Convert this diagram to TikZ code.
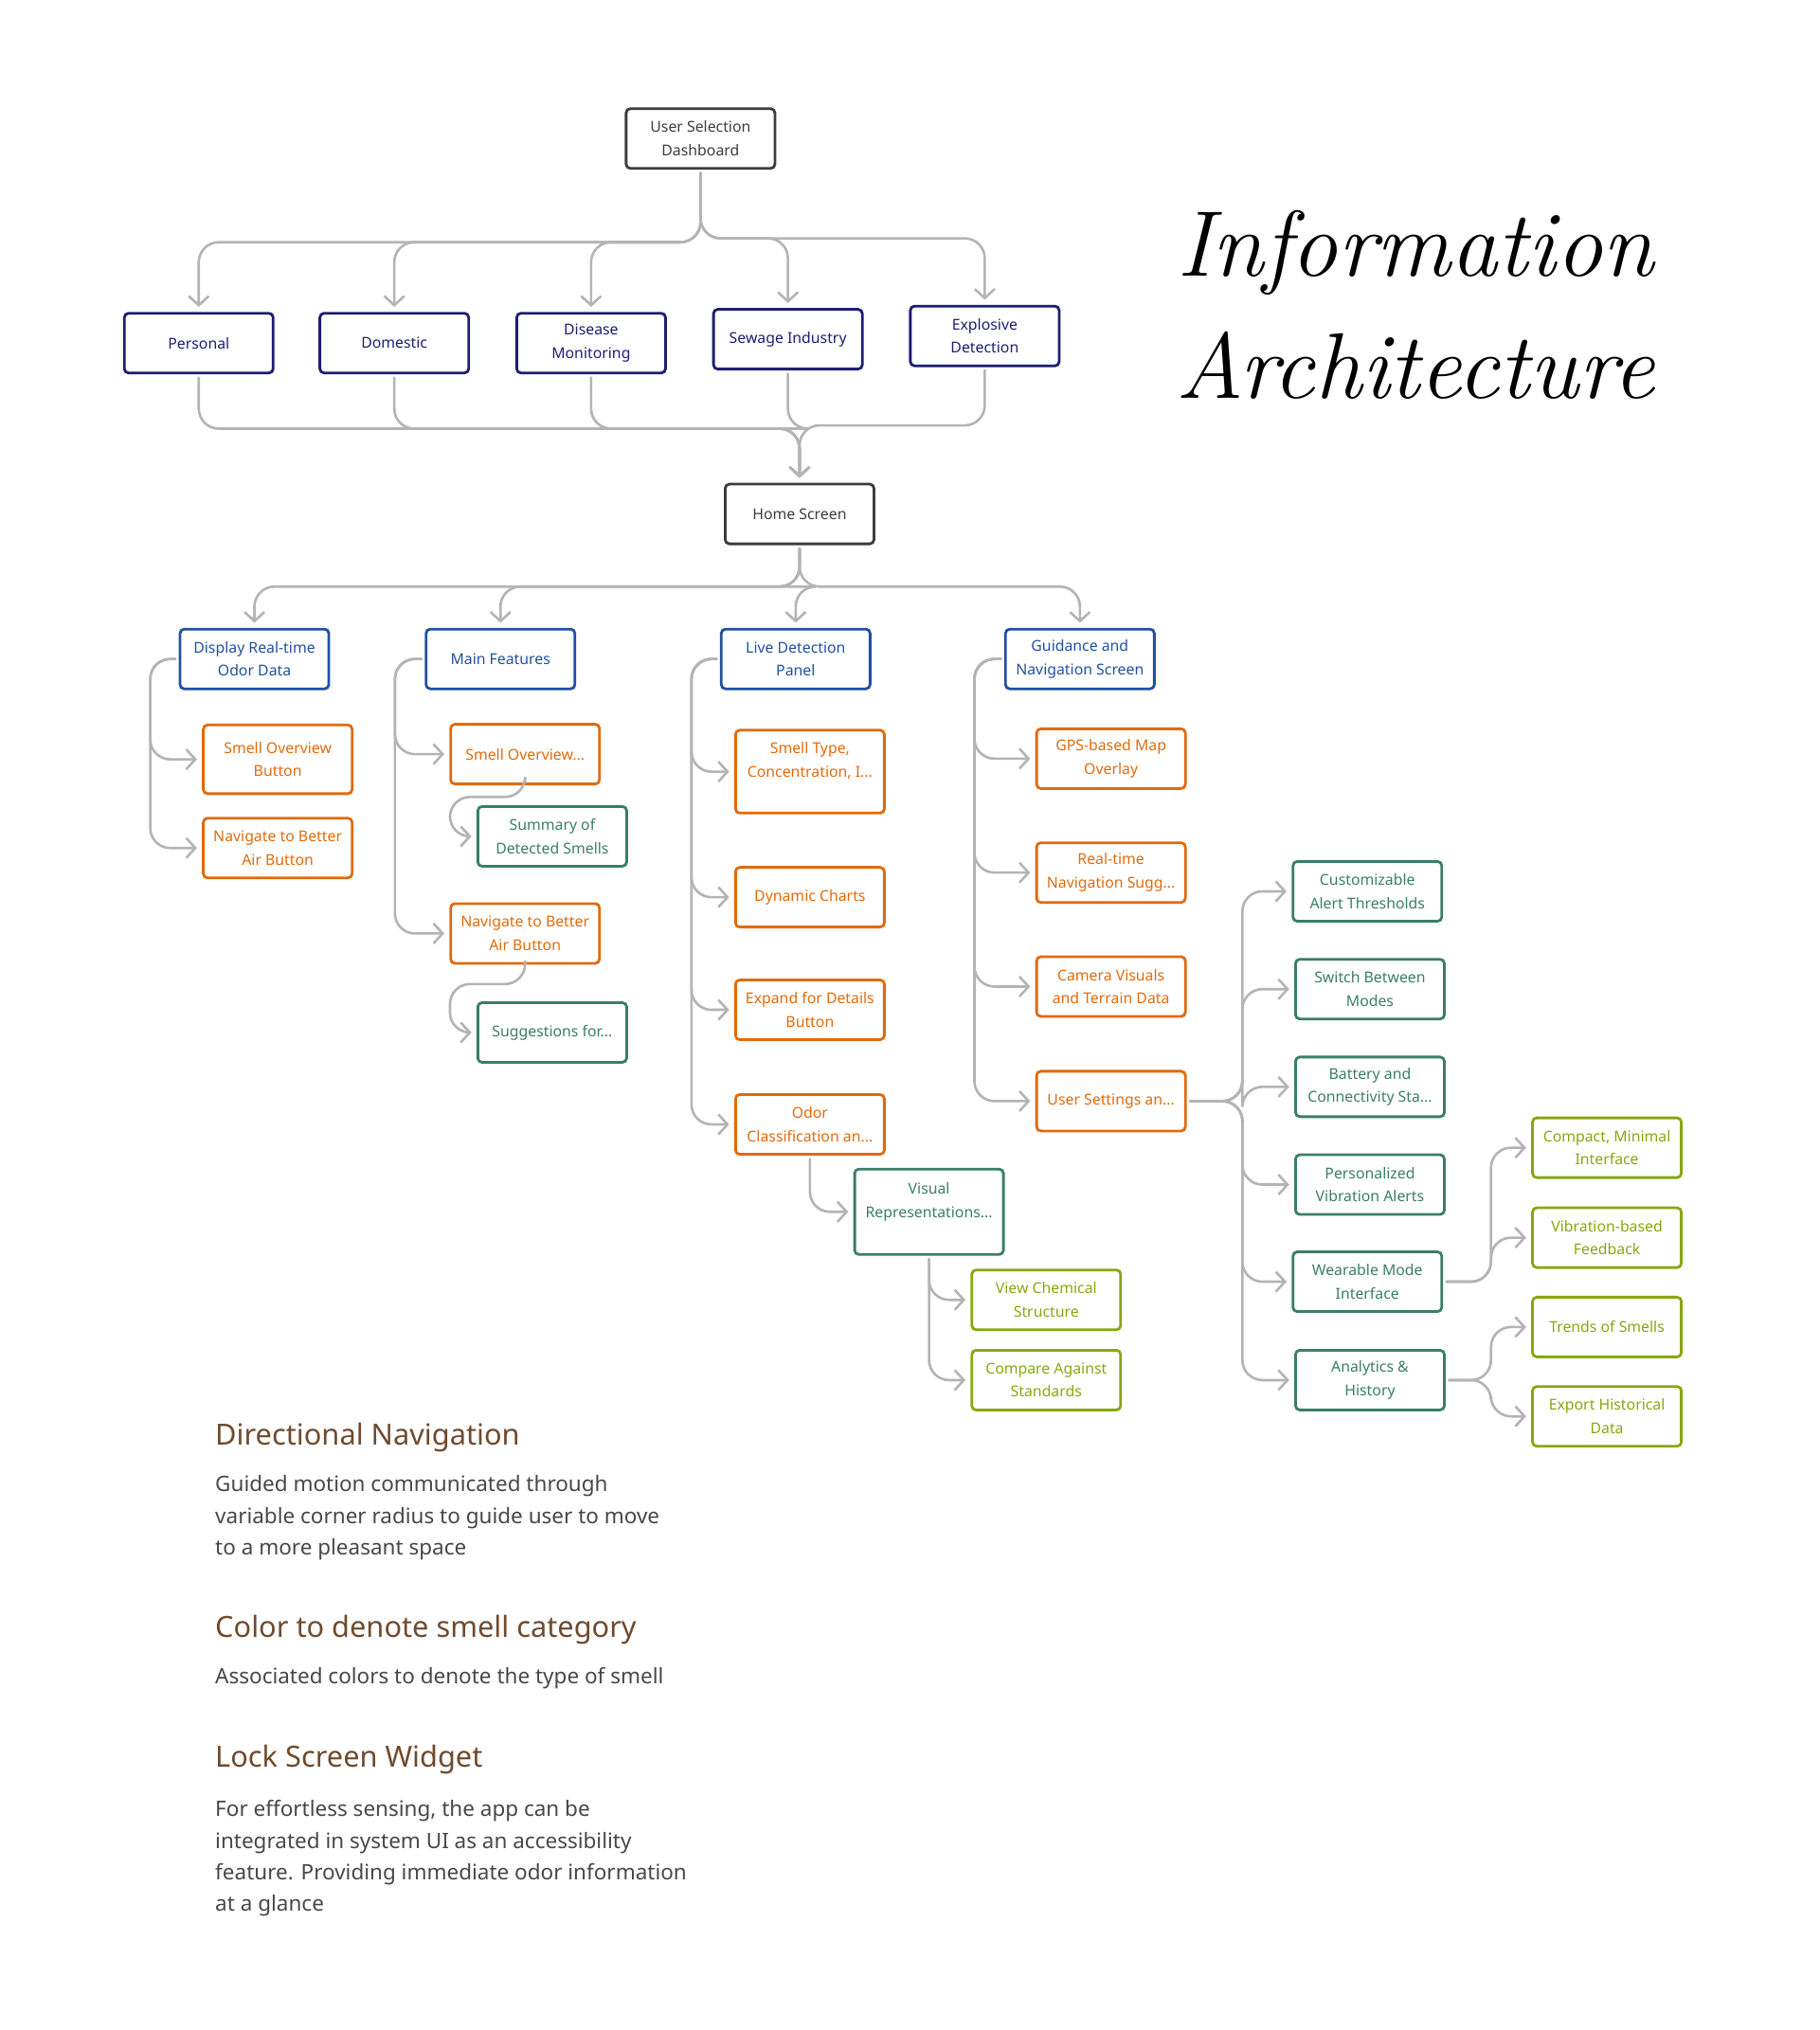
\documentclass[tikz,border=0pt]{standalone}
\usepackage{fontspec}
\setmainfont{Noto Sans}
\newfontfamily\handfont{Latin Modern Roman}
\usepackage{xcolor}
\usepackage{tikz}
\usetikzlibrary{arrows.meta}

\definecolor{rootc}{HTML}{3C3C3C}
\definecolor{navyc}{HTML}{1E1E72}
\definecolor{bluec}{HTML}{2150A0}
\definecolor{orangec}{HTML}{E26A0A}
\definecolor{tealc}{HTML}{3A7D68}
\definecolor{olivec}{HTML}{86A80E}
\definecolor{linkc}{HTML}{B4B4B4}
\definecolor{headc}{HTML}{6F4A2F}
\definecolor{bodyc}{HTML}{474747}

\tikzset{
  box/.style={draw, rounded corners=2.5pt, line width=1.6pt, minimum width=3.14cm,
    minimum height=1.26cm, align=center, inner sep=2pt, font=\fontsize{9}{14}\selectfont},
  rootbox/.style={box, draw=rootc, text=rootc},
  catbox/.style={box, draw=navyc, text=navyc},
  sectbox/.style={box, draw=bluec, text=bluec},
  featbox/.style={box, draw=orangec, text=orangec},
  subbox/.style={box, draw=tealc, text=tealc},
  leafbox/.style={box, draw=olivec, text=olivec},
  link/.style={draw=linkc, line width=1.5pt, rounded corners=12pt, line cap=round,
    shorten >=3pt, shorten <=2pt, -{Straight Barb[length=5.5pt,width=12pt]}},
  heading/.style={anchor=base west, inner sep=0pt, text=headc, font=\fontsize{17.5}{21}\selectfont},
  bodytext/.style={anchor=base west, inner sep=0pt, align=left, text=bodyc,
    font=\fontsize{12.8}{19}\selectfont},
}

\begin{document}
\begin{tikzpicture}[x=0.02733cm, y=-0.02733cm]
\useasboundingbox (0,0) rectangle (1405,1568);
% Title
\node[anchor=base, font=\handfont\itshape\fontsize{56}{70}\selectfont] (title1) at (1093,213) {Information};
\node[anchor=base, font=\handfont\itshape\fontsize{56}{70}\selectfont] (title2) at (1093,308) {Architecture};
% Dashboard and categories
\node[rootbox] (usd) at (541,107) {User Selection\\Dashboard};
\node[catbox] (personal) at (153.5,265) {Personal};
\node[catbox] (domestic) at (304.5,265) {Domestic};
\node[catbox] (disease) at (456.5,265) {Disease\\Monitoring};
\node[catbox] (sewage) at (608.5,262) {Sewage Industry};
\node[catbox] (explosive) at (760.5,259.5) {Explosive\\Detection};
\node[rootbox] (home) at (617.5,397) {Home Screen};
% Sections
\node[sectbox] (odordata) at (196.5,509) {Display Real-time\\Odor Data};
\node[sectbox] (mainfeat) at (386.5,509) {Main Features};
\node[sectbox] (livepanel) at (614.5,509) {Live Detection\\Panel};
\node[sectbox] (guidance) at (834,509) {Guidance and\\Navigation Screen};
% Display real-time odor data
\node[featbox, minimum height=1.45cm] (smellbtn) at (214.5,586.5) {Smell Overview\\Button};
\node[featbox] (navbtn) at (214.5,655) {Navigate to Better\\Air Button};
% Main features
\node[featbox] (smellov) at (405.5,582.5) {Smell Overview...};
\node[subbox] (summary) at (426.5,646) {Summary of\\Detected Smells};
\node[featbox] (navbtnb) at (405.5,721) {Navigate to Better\\Air Button};
\node[subbox] (suggest) at (426.5,797.5) {Suggestions for...};
% Live detection panel
\node[featbox, minimum height=1.75cm] (smelltype) at (625.5,596) {Smell Type,\\Concentration, I...\\\mbox{}};
\node[featbox] (charts) at (625.5,693) {Dynamic Charts};
\node[featbox] (expand) at (625.5,780) {Expand for Details\\Button};
\node[featbox] (odorcls) at (625.5,868.5) {Odor\\Classification an...};
\node[subbox, minimum height=1.8cm] (visrep) at (717.5,936) {Visual\\Representations...\\\mbox{}};
\node[leafbox] (chem) at (808,1004) {View Chemical\\Structure};
\node[leafbox] (compare) at (808,1066) {Compare Against\\Standards};
% Guidance and navigation
\node[featbox] (gps) at (858,586) {GPS-based Map\\Overlay};
\node[featbox] (realnav) at (858,674) {Real-time\\Navigation Sugg...};
\node[featbox] (camera) at (858,762) {Camera Visuals\\and Terrain Data};
\node[featbox] (usersets) at (858,850.5) {User Settings an...};
% User settings
\node[subbox] (alerts) at (1056,688.5) {Customizable\\Alert Thresholds};
\node[subbox] (modes) at (1058,764) {Switch Between\\Modes};
\node[subbox] (battery) at (1058,839.5) {Battery and\\Connectivity Sta...};
\node[subbox] (vibalerts) at (1058,915) {Personalized\\Vibration Alerts};
\node[subbox] (wearable) at (1056,990) {Wearable Mode\\Interface};
\node[subbox] (analytics) at (1058,1066) {Analytics \&\\History};
\node[leafbox] (compact) at (1241,886.5) {Compact, Minimal\\Interface};
\node[leafbox] (vibfeed) at (1241,956) {Vibration-based\\Feedback};
\node[leafbox] (trends) at (1241,1025) {Trends of Smells};
\node[leafbox] (export) at (1241,1094) {Export Historical\\Data};
% Connectors
\foreach \n in {personal,domestic,disease}
  \draw[link] (usd.south) -- ++(0,56) -| (\n.north);
\foreach \n in {sewage,explosive}
  \draw[link] (usd.south) -- ++(0,53) -| (\n.north);
\foreach \n in {personal,domestic,disease}
  \draw[link] (\n.south) -- ++(0,42) -| (home.north);
\foreach \n in {sewage,explosive}
  \draw[link] (\n.south) -- ++(0,45) -| (home.north);
\foreach \n in {odordata,mainfeat,livepanel,guidance}
  \draw[link] (home.south) -- ++(0,32) -| (\n.north);
\foreach \n in {smellbtn,navbtn}
  \draw[link] (odordata.west) -- ++(-22,0) |- (\n.west);
\foreach \n in {smellov,navbtnb}
  \draw[link] (mainfeat.west) -- ++(-23,0) |- (\n.west);
\draw[link] (smellov.south) -- ++(0,9) -- ++(-58,0) |- (summary.west);
\draw[link] (navbtnb.south) -- ++(0,15) -- ++(-58,0) |- (suggest.west);
\foreach \n in {smelltype,charts,expand,odorcls}
  \draw[link] (livepanel.west) -- ++(-22,0) |- (\n.west);
\draw[link] (odorcls.south) |- (visrep.west);
\foreach \n in {chem,compare}
  \draw[link] (visrep.south) |- (\n.west);
\foreach \n in {gps,realnav,camera,usersets}
  \draw[link] (guidance.west) -- ++(-23,0) |- (\n.west);
\foreach \n in {alerts,modes,battery,vibalerts,wearable,analytics}
  \draw[link] (usersets.east) -- ++(43,0) |- (\n.west);
\foreach \n in {compact,vibfeed}
  \draw[link] (wearable.east) -- ++(37,0) |- (\n.west);
\foreach \n in {trends,export}
  \draw[link] (analytics.east) -- ++(35,0) |- (\n.west);
% Notes (multi-line nodes sit on their last baseline)
\node[heading] (hnav) at (166,1116.5) {Directional Navigation};
\node[bodytext] (tnav) at (166,1201.2) {Guided motion communicated through\\variable corner radius to guide user to move\\to a more pleasant space};
\node[heading] (hcolor) at (166,1264.7) {Color to denote smell category};
\node[bodytext] (tcolor) at (166,1300.5) {Associated colors to denote the type of smell};
\node[heading] (hlock) at (166,1364.8) {Lock Screen Widget};
\node[bodytext] (tlock) at (166,1476.4) {For effortless sensing, the app can be\\integrated in system UI as an accessibility\\feature. Providing immediate odor information\\at a glance};
\end{tikzpicture}
\end{document}
